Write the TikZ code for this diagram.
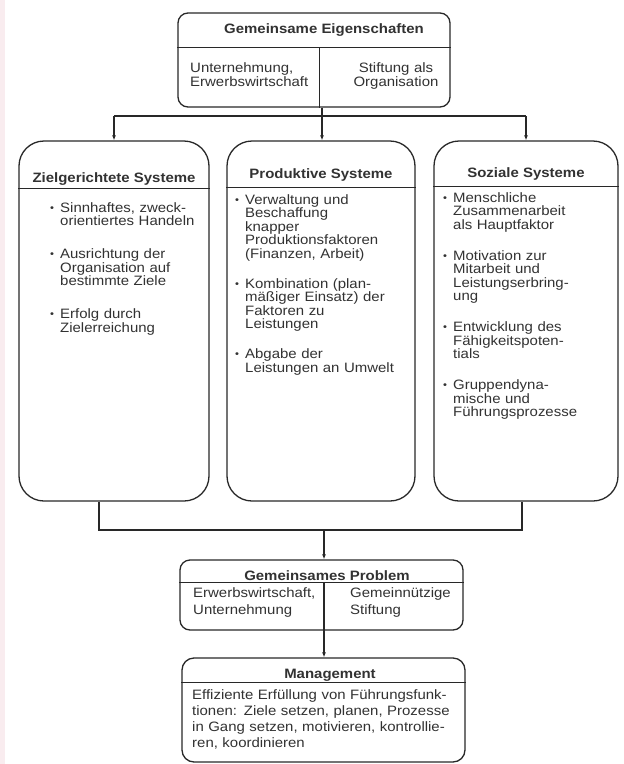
\documentclass[tikz,border=0pt]{standalone}
\usepackage{fontspec}
\setmainfont{Liberation Sans}[FakeStretch=1.1]
\usetikzlibrary{arrows.meta,calc}
\definecolor{linec}{RGB}{40,40,40}
\definecolor{textc}{RGB}{50,50,50}
\definecolor{pinkc}{RGB}{249,236,239}
\newcommand{\mybul}{\makebox[10pt][l]{\raisebox{0.1ex}{\scalebox{0.75}{•}}}}
\newcommand{\bitem}[1]{\hangindent=10pt\hangafter=1\noindent\mybul#1\par}
\begin{document}
\begin{tikzpicture}[x=1pt,y=-1pt,
  ln/.style={draw=linec,line width=1.3pt},
  box/.style={draw=linec,line width=1.3pt,rounded corners=#1,inner sep=0pt},
  arr/.style={draw=linec,line width=1.3pt,-{Latex[length=5pt,width=4pt]}},
  txt/.style={inner sep=0pt,text=textc,font=\fontsize{13.6}{13.5}\selectfont},
  hdr/.style={inner sep=0pt,text=textc,font=\fontsize{13.6}{14}\selectfont\bfseries},
]
\useasboundingbox (0,0) rectangle (624,764);
\fill[white] (0,0) rectangle (624,764);
\fill[pinkc] (0,0) rectangle (5,764);

% top box
\node[box=10pt,minimum width=272pt,minimum height=94pt] (top) at (314,60) {};
\coordinate (toph) at ($(top.north west)+(0,35)$);
\draw[ln] (toph) -- (toph -| top.east);
\draw[ln] ($(toph)+(142,0)$) -- ($(top.south west)+(142,0)$);
\node[hdr,anchor=base] (t1) at (324,33) {Gemeinsame Eigenschaften};
\node[txt,anchor=base west,text width=128pt,align=left,font=\fontsize{13.6}{14.5}\selectfont] (t2) at (190,72) {Unternehmung,\\Erwerbswirtschaft};
\node[txt,anchor=base,text width=120pt,align=center,font=\fontsize{13.6}{14.5}\selectfont] (t3) at (396,72) {Stiftung als\\Organisation};

% three system boxes
\node[box=25pt,minimum width=190pt,minimum height=360pt] (zs) at (114,321) {};
\node[box=25pt,minimum width=188pt,minimum height=360pt] (ps) at (321,321) {};
\node[box=25pt,minimum width=184pt,minimum height=360pt] (ss) at (526,321) {};
\coordinate (zsh) at ($(zs.north west)+(0,48)$);
\coordinate (psh) at ($(ps.north west)+(0,47)$);
\coordinate (ssh) at ($(ss.north west)+(0,46)$);
\draw[ln] (zsh) -- (zsh -| zs.east);
\draw[ln] (psh) -- (psh -| ps.east);
\draw[ln] (ssh) -- (ssh -| ss.east);

\node[hdr,anchor=base] (h1) at (114,182) {Zielgerichtete Systeme};
\node[hdr,anchor=base] (h2) at (321,178) {Produktive Systeme};
\node[hdr,anchor=base] (h3) at (526,177) {Soziale Systeme};

\node[txt,anchor=base west,text width=155pt,align=left] (b1) at (50,212) {%
\bitem{Sinnhaftes, zweck-\newline orientiertes Handeln}\vspace{19.5pt}%
\bitem{Ausrichtung der\newline Organisation auf\newline bestimmte Ziele}\vspace{19.5pt}%
\bitem{Erfolg durch\newline Zielerreichung}};

\node[txt,anchor=base west,text width=170pt,align=left] (b2) at (235,204) {%
\bitem{Verwaltung und\newline Beschaffung\newline knapper\newline Produktionsfaktoren\newline (Finanzen, Arbeit)}\vspace{16.5pt}%
\bitem{Kombination (plan-\newline mäßiger Einsatz) der\newline Faktoren zu\newline Leistungen}\vspace{16.5pt}%
\bitem{Abgabe der\newline Leistungen an Umwelt}};

\node[txt,anchor=base west,text width=165pt,align=left] (b3) at (443,202) {%
\bitem{Menschliche\newline Zusammenarbeit\newline als Hauptfaktor}\vspace{17.5pt}%
\bitem{Motivation zur\newline Mitarbeit und\newline Leistungserbring-\newline ung}\vspace{17.5pt}%
\bitem{Entwicklung des\newline Fähigkeitspoten-\newline tials}\vspace{17.5pt}%
\bitem{Gruppendyna-\newline mische und\newline Führungsprozesse}};

% top connectors
\coordinate (tj) at (322,116);
\draw[ln] (top.south -| tj) -- (tj);
\draw[ln] (zs.north |- tj) -- (ss.north |- tj);
\draw[arr] (zs.north |- tj) -- (zs.north);
\draw[arr] (tj) -- (ps.north -| tj);
\draw[arr] (ss.north |- tj) -- (ss.north);

% problem box
\node[box=10pt,minimum width=283pt,minimum height=70pt] (pr) at (321.5,595) {};
\coordinate (bl) at (99,530);
\coordinate (br) at (522,530);
\coordinate (bj) at (324,530);
\draw[ln] (zs.south -| bl) -- (bl) -- (br) -- (ss.south -| br);
\draw[arr] (bj) -- (pr.north -| bj);
\coordinate (prh) at ($(pr.north west)+(0,23)$);
\draw[ln] (prh) -- (prh -| pr.east);
\draw[ln] (prh -| bj) -- (pr.south -| bj);
\node[hdr,anchor=base] (ph) at (327,580) {Gemeinsames Problem};
\node[txt,anchor=base west,text width=128pt,align=left,font=\fontsize{13.6}{17}\selectfont] (pb1) at (193,597) {Erwerbswirtschaft,\\Unternehmung};
\node[txt,anchor=base west,text width=110pt,align=left,font=\fontsize{13.6}{17}\selectfont] (pb2) at (350,597) {Gemeinnützige\\Stiftung};

% management box
\node[box=12pt,minimum width=283pt,minimum height=104pt] (mg) at (323.5,710) {};
\draw[arr] (pr.south -| bj) -- (mg.north -| bj);
\coordinate (mgh) at ($(mg.north west)+(0,25)$);
\draw[ln] (mgh) -- (mgh -| mg.east);
\node[hdr,anchor=base] (mh) at (330,678) {Management};
\node[txt,anchor=base west,text width=275pt,align=left,font=\fontsize{13.6}{16}\selectfont] (mb) at (192,699) {Effiziente Erfüllung von Führungsfunk-\\tionen: Ziele setzen, planen, Prozesse\\in Gang setzen, motivieren, kontrollie-\\ren, koordinieren};
\end{tikzpicture}
\end{document}
